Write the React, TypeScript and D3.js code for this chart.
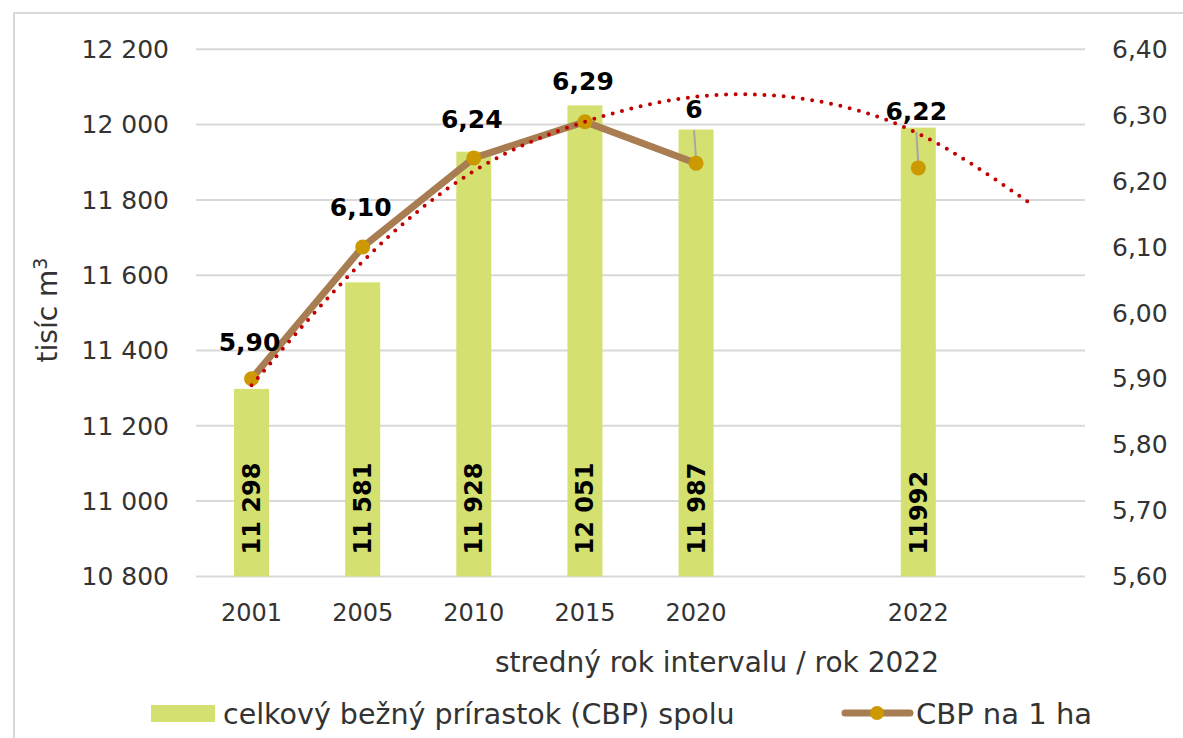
import React from "react";
import * as d3 from "d3";

// categories (slot 6 and 8 are empty on the axis)
const categories = ["2001", "2005", "2010", "2015", "2020", "", "2022", ""];
const barValues = [11298, 11581, 11928, 12051, 11987, null, 11992, null];
const barLabels = ["11 298", "11 581", "11 928", "12 051", "11 987", "", "11992", ""];
const perHa = [5.9, 6.1, 6.235, 6.29, 6.227, null, 6.22, null];
const perHaLabels = ["5,90", "6,10", "6,24", "6,29", "6", "", "6,22", ""];
// polynomial trend, one value per slot
const trend = [5.89, 6.078, 6.215, 6.29, 6.328, 6.324, 6.272, 6.167];
const leftTicks = [10800, 11000, 11200, 11400, 11600, 11800, 12000, 12200];
const rightTicks = [5.6, 5.7, 5.8, 5.9, 6.0, 6.1, 6.2, 6.3, 6.4];

const seriesNames = ["celkový bežný prírastok (CBP) spolu", "CBP na 1 ha"];
const axisTitleX = "stredný rok intervalu / rok 2022";

// label baseline offsets above the dot
const labelDy = [-28, -31, -30, -32, -45, 0, -48, 0];
const withLeader = [4, 6];

const W = 1183;
const H = 738;
const font = "'DejaVu Sans', sans-serif";
const barColor = "#d4e06f";
const lineColor = "#a87d52";
const dotColor = "#cc9900";
const gridColor = "#d9d9d9";
const textColor = "#333";

const sk = d3.formatLocale({ decimal: ",", thousands: " ", grouping: [3], currency: ["", ""] });
const fmtLeft = sk.format(",d");
const fmtRight = sk.format(".2f");

export default function App() {
  const x = d3.scaleBand<number>().domain(d3.range(categories.length)).range([196, 1085]);
  const yL = d3.scaleLinear().domain([10800, 12200]).range([576.4, 49.3]);
  const yR = d3.scaleLinear().domain([5.6, 6.4]).range([576.4, 49.3]);
  const cx = (i: number) => (x(i) as number) + x.bandwidth() / 2;
  const barW = x.bandwidth() * 0.315;

  const line = d3
    .line<number | null>()
    .defined((d) => d != null)
    .x((d, i) => cx(i))
    .y((d) => yR(d as number));

  const trendLine = d3
    .line<number>()
    .x((d, i) => cx(i))
    .y((d) => yR(d))
    .curve(d3.curveNatural);

  return (
    <svg width={W} height={H} style={{ position: "absolute", left: 0, top: 0 }} fontFamily={font}>
      <rect x={0} y={0} width={W} height={H} fill="#fff" />
      <rect x={14} y={13} width={1300} height={900} fill="none" stroke={gridColor} strokeWidth={2} />

      {/* gridlines */}
      {leftTicks.map((t) => (
        <line key={t} x1={196} x2={1085} y1={yL(t)} y2={yL(t)} stroke={gridColor} strokeWidth={2} />
      ))}

      {/* left ticks */}
      {leftTicks.map((t) => (
        <text key={"l" + t} x={169} y={yL(t)} dy="0.35em" textAnchor="end" fontSize={25} fill={textColor}>
          {fmtLeft(t)}
        </text>
      ))}
      {/* right ticks */}
      {rightTicks.map((t) => (
        <text key={"r" + t} x={1112} y={yR(t)} dy="0.35em" textAnchor="start" fontSize={25} fill={textColor}>
          {fmtRight(t)}
        </text>
      ))}

      {/* bars */}
      {barValues.map((v, i) =>
        v == null ? null : (
          <rect key={"b" + i} x={cx(i) - barW / 2} y={yL(v)} width={barW} height={yL(10800) - yL(v)} fill={barColor} />
        )
      )}
      {barValues.map((v, i) =>
        v == null ? null : (
          <text
            key={"bl" + i}
            transform={`translate(${cx(i) + 8.5},${yL(10800) - 22}) rotate(-90)`}
            fontSize={24}
            fontWeight="bold"
            fill="#000"
          >
            {barLabels[i]}
          </text>
        )
      )}

      {/* x labels */}
      {categories.map((c, i) => (
        <text key={"x" + i} x={cx(i)} y={621} textAnchor="middle" fontSize={24} fill={textColor}>
          {c}
        </text>
      ))}
      <text x={717} y={672} textAnchor="middle" fontSize={28} fill={textColor}>
        {axisTitleX}
      </text>
      <text transform="translate(57,310) rotate(-90)" textAnchor="middle" fontSize={28} fill={textColor}>
        tisíc m<tspan dy={-10} fontSize={19}>3</tspan>
      </text>

      {/* CBP per ha line */}
      <path d={line(perHa) || ""} fill="none" stroke={lineColor} strokeWidth={7} strokeLinejoin="round" />
      {withLeader.map((i) => (
        <line
          key={"ld" + i}
          x1={cx(i) - 2}
          x2={cx(i)}
          y1={yR(perHa[i] as number) + labelDy[i] + 12}
          y2={yR(perHa[i] as number) - 4}
          stroke="#a6a6a6"
          strokeWidth={2}
        />
      ))}
      {perHa.map((v, i) =>
        v == null ? null : <circle key={"d" + i} cx={cx(i)} cy={yR(v)} r={7.5} fill={dotColor} />
      )}

      {/* trend */}
      <path
        d={trendLine(trend) || ""}
        fill="none"
        stroke="#c00000"
        strokeWidth={4}
        strokeDasharray="0 9.6"
        strokeLinecap="round"
      />

      {perHa.map((v, i) =>
        v == null ? null : (
          <text key={"pl" + i} x={cx(i) - 2} y={yR(v) + labelDy[i]} textAnchor="middle" fontSize={25} fontWeight="bold" fill="#000">
            {perHaLabels[i]}
          </text>
        )
      )}

      {/* legend */}
      <rect x={151} y={705} width={64} height={17} fill={barColor} />
      <text x={223} y={714} dy="0.35em" fontSize={28.5} fill={textColor}>
        {seriesNames[0]}
      </text>
      <line x1={845} x2={910} y1={713} y2={713} stroke={lineColor} strokeWidth={7} strokeLinecap="round" />
      <circle cx={877} cy={713} r={7} fill={dotColor} />
      <text x={916} y={714} dy="0.35em" fontSize={29} fill={textColor}>
        {seriesNames[1]}
      </text>
    </svg>
  );
}
